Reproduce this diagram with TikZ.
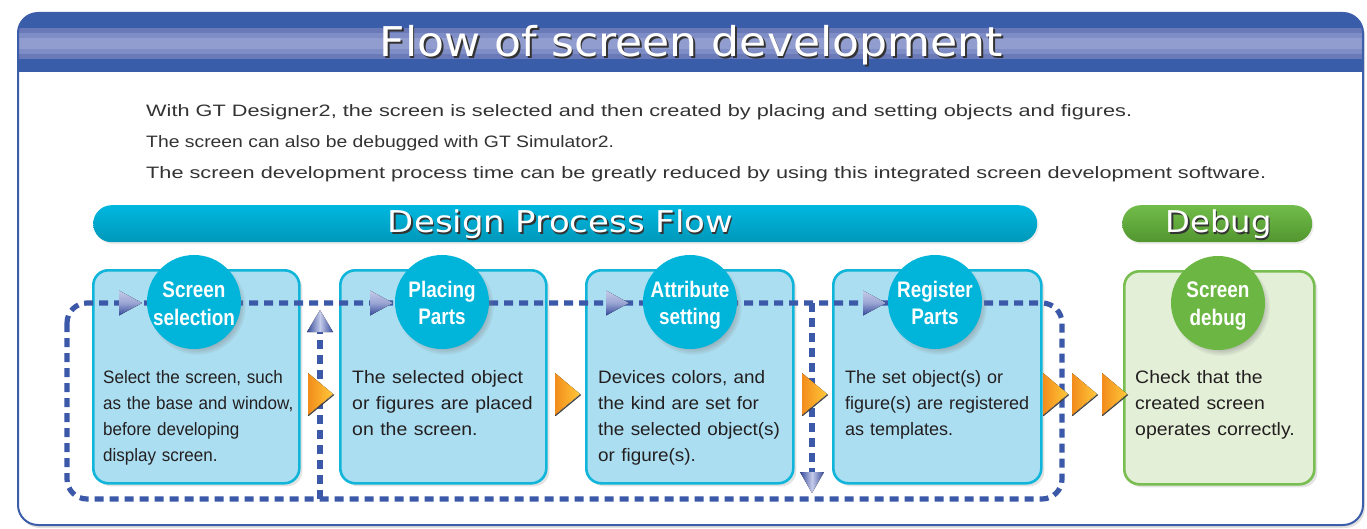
\documentclass[tikz,border=0pt]{standalone}
\usepackage{fontspec}
\usepackage{graphicx}
\setmainfont{Liberation Sans}
\newfontfamily\headfont{DejaVu Sans}
\usetikzlibrary{shadows,shapes.geometric}

\definecolor{frameblue}{HTML}{3C5EA9}
\definecolor{banddark}{HTML}{3A5DA9}
\definecolor{bandA}{HTML}{6A79B8}
\definecolor{bandB}{HTML}{7F8DC6}
\definecolor{bandC}{HTML}{919DCE}
\definecolor{boxfill}{HTML}{ABDEF1}
\definecolor{boxedge}{HTML}{12B5DA}
\definecolor{debugfill}{HTML}{E3EFD7}
\definecolor{debugedge}{HTML}{78BE50}
\definecolor{disccyan}{HTML}{00B4DA}
\definecolor{discgreen}{HTML}{6CB743}
\definecolor{loopblue}{HTML}{3B59A8}
\definecolor{tipblue}{HTML}{34489A}
\definecolor{tipbluelt}{HTML}{C5CCEA}
\definecolor{tiporA}{HTML}{F28C1C}
\definecolor{tiporB}{HTML}{FFC93A}
\definecolor{barcyan}{HTML}{00B7DF}
\definecolor{barcyandk}{HTML}{0098BA}
\definecolor{bargreen}{HTML}{71BC4A}
\definecolor{bargreendk}{HTML}{52962F}
\definecolor{inkdark}{HTML}{231F20}
\definecolor{introgray}{HTML}{333333}

% horizontal-only scaling of one line of text
\newcommand\hsc[2]{\scalebox{#1}[1]{#2}}

\begin{document}
\begin{tikzpicture}[x=1pt,y=-1pt,
  stepbox/.style={draw=boxedge, fill=boxfill, line width=2.6pt, rounded corners=15pt,
    minimum width=207pt, minimum height=213pt, anchor=north west, inner sep=0pt,
    drop shadow={shadow xshift=3pt, shadow yshift=-3pt, opacity=0.22}},
  debugbox/.style={stepbox, draw=debugedge, fill=debugfill, minimum width=190pt},
  stepdisc/.style={circle, fill=disccyan, minimum size=94pt, inner sep=0pt,
    circular drop shadow={shadow xshift=3pt, shadow yshift=-4pt, shadow scale=1.04, opacity=0.45}},
  debugdisc/.style={stepdisc, fill=discgreen},
  disclabel/.style={anchor=base, text width=120pt, align=center, inner sep=0pt, text=white,
    font=\bfseries\fontsize{22.5}{27.5}\selectfont},
  bodytext/.style={anchor=base west, text width=205pt, align=left, inner sep=0pt, text=inkdark,
    font=\fontsize{18}{26.3}\selectfont},
  introline/.style={anchor=base west, inner sep=0pt, text=introgray, font=\fontsize{16.5}{20}\selectfont},
  loopline/.style={draw=loopblue, line width=5.2pt, dash pattern=on 9pt off 6pt},
  barlabel/.style={anchor=base, inner sep=0pt, font=\headfont\fontsize{30}{30}\selectfont},
  tipright/.pic={\fill[top color=tipbluelt, bottom color=tipblue, middle color=tipbluelt!70!tipblue]
      (-23,-12.5) -- (0,0) -- (-23,12.5) -- cycle;},
  tipup/.pic={\fill[left color=tipblue, right color=tipblue, middle color=tipbluelt]
      (-13,22) -- (0,0) -- (13,22) -- cycle;},
  tipdown/.pic={\fill[left color=tipblue, right color=tipblue, middle color=tipbluelt]
      (-12,-21) -- (0,0) -- (12,-21) -- cycle;},
  orangetip/.pic={\fill[left color=tiporA, right color=tiporB]
      (-25,-21) -- (0,0) -- (-25,21) -- cycle;
    \draw[black!75, line width=1.1pt, line cap=round] (0.6,0.8) -- (-24.4,21.5);}
]
\useasboundingbox (0,0) rectangle (1367,529);

% ---- panel with striped heading band ----
\fill[black!12, rounded corners=20pt] (20,16) rectangle (1365,528);
\begin{scope}
  \clip[rounded corners=20pt] (18,13) rectangle (1363,525);
  \fill[white] (18,13) rectangle (1363,525);
  \fill[banddark] (18,13) rectangle (1363,72);
  \fill[bandA] (18,28) rectangle (1363,59);
  \fill[bandB] (18,33) rectangle (1363,54);
  \fill[bandC] (18,38) rectangle (1363,49);
\end{scope}
\draw[frameblue, line width=2pt, rounded corners=20pt] (18,13) rectangle (1363,525);

\node[anchor=base, inner sep=0pt, text=black!80] (titleshade) at (693,58.5)
  {\resizebox{623pt}{\height}{\headfont\fontsize{41}{41}\selectfont Flow of screen development}};
\node[anchor=base, inner sep=0pt, text=white] (title) at (691.5,57)
  {\resizebox{623pt}{\height}{\headfont\fontsize{41}{41}\selectfont Flow of screen development}};

% ---- introduction ----
\node[introline] (intro1) at (146,117)
  {\resizebox{986pt}{\height}{With GT Designer2, the screen is selected and then created by placing and setting objects and figures.}};
\node[introline] (intro2) at (146,148)
  {\resizebox{468pt}{\height}{The screen can also be debugged with GT Simulator2.}};
\node[introline] (intro3) at (146,179)
  {\resizebox{1120pt}{\height}{The screen development process time can be greatly reduced by using this integrated screen development software.}};

% ---- phase bars ----
\node[anchor=north west, minimum width=944pt, minimum height=37pt, rounded corners=18.5pt, inner sep=0pt,
  top color=barcyan, middle color=barcyan, bottom color=barcyandk,
  drop shadow={opacity=0.15, shadow xshift=1.5pt, shadow yshift=-2pt}] (designbar) at (93,205) {};
\node[anchor=north west, minimum width=190pt, minimum height=37pt, rounded corners=18.5pt, inner sep=0pt,
  top color=bargreen, middle color=bargreen, bottom color=bargreendk,
  drop shadow={opacity=0.15, shadow xshift=1.5pt, shadow yshift=-2pt}] (debugbar) at (1122,205) {};
\node[barlabel, text=black!80] (designshade) at (562,234.5) {\resizebox{345pt}{\height}{Design Process Flow}};
\node[barlabel, text=white] (designlabel) at (560.5,233) {\resizebox{345pt}{\height}{Design Process Flow}};
\node[barlabel, text=black!80] (debugshade) at (1220,234.5) {\resizebox{106pt}{\height}{Debug}};
\node[barlabel, text=white] (debuglabel) at (1218.5,233) {\resizebox{106pt}{\height}{Debug}};

% ---- step boxes ----
\node[stepbox, minimum width=206pt] (b1) at (92,269) {};
\node[stepbox, minimum width=206pt] (b2) at (339,269) {};
\node[stepbox] (b3) at (585,269) {};
\node[stepbox, minimum width=208pt] (b4) at (832,269) {};
\node[debugbox] (b5) at (1123,270) {};

% ---- editing loop (dashed) ----
\coordinate (lpNW) at (67,303);
\coordinate (lpSE) at (1062,499);
\coordinate (upFoot) at (320,499);
\coordinate (upHead) at (320,332);
\coordinate (downTop) at (812,303);
\coordinate (downFoot) at (812,472);
\draw[loopline, rounded corners=20pt] (lpNW) rectangle (lpSE);
\draw[loopline] (upFoot) -- (upHead);
\draw[loopline] (downTop) -- (downFoot);
\pic at (320,310) {tipup};
\pic at (812,493) {tipdown};
\pic at (142,303) {tipright};
\pic at (393,303) {tipright};
\pic at (629,303) {tipright};
\pic at (886,303) {tipright};

% ---- flow arrows ----
\pic at (333,394) {orangetip};
\pic at (580,394) {orangetip};
\pic at (827,394) {orangetip};
\pic at (1068,394) {orangetip};
\pic at (1097,394) {orangetip};
\pic at (1127,394) {orangetip};

% ---- step discs ----
\node[stepdisc] (d1) at (194,302) {};
\node[stepdisc] (d2) at (442,302) {};
\node[stepdisc] (d3) at (690,302) {};
\node[stepdisc] (d4) at (935,302) {};
\node[debugdisc] (d5) at (1218,303) {};
\node[disclabel] (t1) at (194,298) {\hsc{.84}{Screen}\\\hsc{.84}{selection}};
\node[disclabel] (t2) at (442,297) {\hsc{.84}{Placing}\\\hsc{.84}{Parts}};
\node[disclabel] (t3) at (690,297) {\hsc{.84}{Attribute}\\\hsc{.84}{setting}};
\node[disclabel] (t4) at (935,297) {\hsc{.84}{Register}\\\hsc{.84}{Parts}};
\node[disclabel] (t5) at (1218,298) {\hsc{.84}{Screen}\\\hsc{.84}{debug}};

% ---- step descriptions ----
\node[bodytext] (x1) at (103,383) {\hsc{.945}{Select the screen, such}\\\hsc{.945}{as the base and window,}\\\hsc{.945}{before developing}\\\hsc{.945}{display screen.}};
\node[bodytext] (x2) at (352,383) {\hsc{1.08}{The selected object}\\\hsc{1.08}{or figures are placed}\\\hsc{1.08}{on the screen.}};
\node[bodytext] (x3) at (598,383) {\hsc{1.05}{Devices colors, and}\\\hsc{1.05}{the kind are set for}\\\hsc{1.05}{the selected object(s)}\\\hsc{1.05}{or figure(s).}};
\node[bodytext] (x4) at (845,383) {\hsc{1.0}{The set object(s) or}\\\hsc{1.0}{figure(s) are registered}\\\hsc{1.0}{as templates.}};
\node[bodytext] (x5) at (1135,383) {\hsc{1.08}{Check that the}\\\hsc{1.08}{created screen}\\\hsc{1.08}{operates correctly.}};
\end{tikzpicture}
\end{document}
